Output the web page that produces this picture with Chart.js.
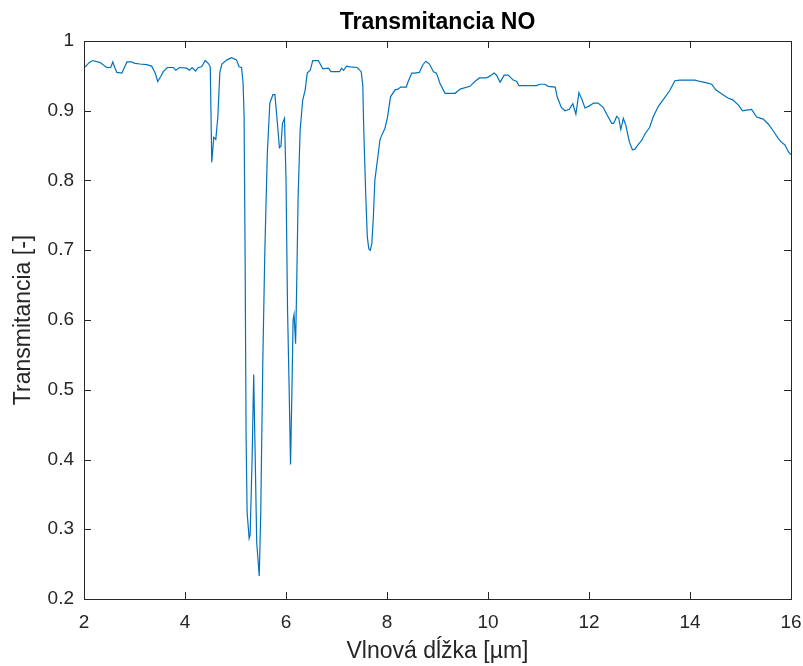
<!DOCTYPE html>
<html>
<head>
<meta charset="utf-8">
<script src="https://cdn.jsdelivr.net/npm/chart.js@4"></script>
<style>
  html, body { margin: 0; padding: 0; background: #fff; }
  #wrap { width: 803px; height: 666px; }
</style>
</head>
<body>
<div id="wrap"><canvas id="chart" width="803" height="666"></canvas></div>
<script>
// --- Data ---
const wavelength = [
  2.00, 2.04, 2.10, 2.17, 2.32, 2.45, 2.53, 2.57, 2.61, 2.65, 2.75, 2.80, 2.85, 2.94, 3.01, 3.11, 3.24, 3.34,
  3.41, 3.46, 3.52, 3.57, 3.65, 3.77, 3.82, 3.89, 4.03, 4.09, 4.14, 4.21, 4.26, 4.33, 4.40, 4.46, 4.50, 4.53,
  4.57, 4.61, 4.65, 4.69, 4.73, 4.83, 4.92, 5.02, 5.07, 5.12, 5.15, 5.17, 5.19, 5.21, 5.23, 5.27, 5.29, 5.33,
  5.36, 5.39, 5.42, 5.47, 5.50, 5.54, 5.58, 5.63, 5.68, 5.74, 5.78, 5.83, 5.87, 5.90, 5.93, 5.97, 6.00, 6.03,
  6.06, 6.09, 6.12, 6.14, 6.16, 6.19, 6.21, 6.24, 6.28, 6.33, 6.38, 6.42, 6.48, 6.53, 6.64, 6.73, 6.84, 6.89,
  7.06, 7.10, 7.14, 7.20, 7.27, 7.41, 7.49, 7.52, 7.54, 7.58, 7.61, 7.64, 7.67, 7.70, 7.73, 7.76, 7.81, 7.86,
  7.89, 7.96, 8.01, 8.07, 8.16, 8.22, 8.27, 8.38, 8.42, 8.49, 8.55, 8.64, 8.71, 8.77, 8.84, 8.92, 8.98, 9.05,
  9.15, 9.35, 9.45, 9.64, 9.74, 9.83, 9.97, 10.04, 10.12, 10.17, 10.24, 10.32, 10.40, 10.50, 10.57, 10.61,
  10.96, 11.03, 11.13, 11.19, 11.33, 11.37, 11.45, 11.52, 11.61, 11.68, 11.74, 11.80, 11.86, 11.92, 12.01,
  12.09, 12.18, 12.28, 12.36, 12.45, 12.49, 12.55, 12.59, 12.63, 12.68, 12.73, 12.80, 12.86, 12.91, 12.98,
  13.04, 13.11, 13.20, 13.27, 13.37, 13.47, 13.60, 13.70, 13.80, 14.10, 14.20, 14.33, 14.43, 14.51, 14.63,
  14.76, 14.84, 14.96, 15.04, 15.12, 15.22, 15.32, 15.45, 15.55, 15.65, 15.75, 15.81, 15.88, 15.95, 16.00
];
const transmittance = [
  0.962, 0.964, 0.969, 0.972, 0.969, 0.962, 0.962, 0.970, 0.962, 0.955, 0.954, 0.962, 0.970, 0.970, 0.968, 0.967, 0.966, 0.964,
  0.954, 0.942, 0.949, 0.956, 0.962, 0.962, 0.958, 0.962, 0.961, 0.958, 0.962, 0.957, 0.962, 0.963, 0.972, 0.968, 0.963, 0.826,
  0.862, 0.859, 0.891, 0.955, 0.967, 0.973, 0.976, 0.973, 0.963, 0.962, 0.940, 0.893, 0.696, 0.430, 0.324, 0.287, 0.292, 0.404,
  0.522, 0.404, 0.281, 0.233, 0.324, 0.537, 0.696, 0.839, 0.911, 0.923, 0.923, 0.882, 0.847, 0.849, 0.882, 0.889, 0.802, 0.616,
  0.510, 0.393, 0.510, 0.600, 0.608, 0.566, 0.643, 0.776, 0.872, 0.915, 0.930, 0.954, 0.958, 0.972, 0.972, 0.960, 0.961, 0.956,
  0.956, 0.961, 0.958, 0.964, 0.963, 0.962, 0.956, 0.937, 0.872, 0.777, 0.719, 0.702, 0.700, 0.710, 0.748, 0.801, 0.829, 0.858,
  0.864, 0.875, 0.891, 0.920, 0.930, 0.931, 0.934, 0.934, 0.942, 0.954, 0.954, 0.955, 0.966, 0.971, 0.967, 0.956, 0.954, 0.939,
  0.925, 0.925, 0.931, 0.935, 0.942, 0.947, 0.947, 0.950, 0.954, 0.951, 0.941, 0.951, 0.951, 0.944, 0.942, 0.936,
  0.936, 0.938, 0.938, 0.935, 0.934, 0.920, 0.905, 0.900, 0.902, 0.910, 0.895, 0.926, 0.916, 0.904, 0.907,
  0.911, 0.911, 0.905, 0.894, 0.882, 0.882, 0.892, 0.889, 0.873, 0.889, 0.879, 0.855, 0.844, 0.845, 0.852,
  0.857, 0.867, 0.876, 0.891, 0.906, 0.916, 0.929, 0.943, 0.944, 0.944, 0.942, 0.940, 0.938, 0.930, 0.924,
  0.918, 0.916, 0.908, 0.900, 0.901, 0.902, 0.891, 0.888, 0.881, 0.871, 0.860, 0.855, 0.851, 0.841, 0.837
];
const xTicks = [2, 4, 6, 8, 10, 12, 14, 16];
const yTicks = [0.2, 0.3, 0.4, 0.5, 0.6, 0.7, 0.8, 0.9, 1];

const FONT = "'Liberation Sans', Arial, Helvetica, sans-serif";
const AXIS_COLOR = "#262626";

// --- MATLAB-style box with inward ticks ---
const boxPlugin = {
  id: "matlabBox",
  afterDraw(chart) {
    const { ctx, chartArea: a, scales: { x, y } } = chart;
    const len = 7;
    ctx.save();
    ctx.strokeStyle = AXIS_COLOR;
    ctx.lineWidth = 1;
    ctx.beginPath();
    xTicks.forEach(v => {
      const px = Math.round(x.getPixelForValue(v)) + 0.5;
      ctx.moveTo(px, a.bottom); ctx.lineTo(px, a.bottom - len);
      ctx.moveTo(px, a.top); ctx.lineTo(px, a.top + len);
    });
    yTicks.forEach(v => {
      const py = Math.round(y.getPixelForValue(v)) + 0.5;
      ctx.moveTo(a.left, py); ctx.lineTo(a.left + len, py);
      ctx.moveTo(a.right, py); ctx.lineTo(a.right - len, py);
    });
    ctx.stroke();
    ctx.strokeRect(Math.round(a.left) + 0.5, Math.round(a.top) + 0.5,
      Math.round(a.right - a.left), Math.round(a.bottom - a.top));
    ctx.restore();
  }
};

const ctx = document.getElementById("chart").getContext("2d");
new Chart(ctx, {
  type: "line",
  data: {
    datasets: [{
      label: "NO",
      data: wavelength.map((w, i) => ({ x: w, y: transmittance[i] })),
      borderColor: "#0072BD",
      borderWidth: 1.2,
      pointRadius: 0,
      fill: false,
      tension: 0
    }]
  },
  options: {
    responsive: false,
    animation: false,
    devicePixelRatio: 1,
    layout: { padding: { left: 0, right: 12, top: 0, bottom: 0 } },
    plugins: {
      legend: { display: false },
      tooltip: { enabled: false },
      title: {
        display: true,
        fullSize: false,
        text: "Transmitancia NO",
        color: "#000",
        font: { family: FONT, size: 23, weight: "bold" },
        padding: { top: 8.5, bottom: 4.9 }
      }
    },
    scales: {
      x: {
        type: "linear",
        min: 2, max: 16,
        afterFit: s => { s.height = 67; s.paddingLeft = 0; s.paddingRight = 0; },
        afterBuildTicks: s => { s.ticks = xTicks.map(v => ({ value: v })); },
        grid: { display: false, drawTicks: false },
        border: { display: false },
        ticks: { color: "#262626", font: { family: FONT, size: 19 }, padding: 12, maxRotation: 0 },
        title: {
          display: true,
          text: "Vlnová dĺžka [µm]",
          color: "#262626",
          font: { family: FONT, size: 23 },
          padding: { top: 0, bottom: 0.2 }
        }
      },
      y: {
        type: "linear",
        min: 0.2, max: 1,
        afterFit: s => { s.width = 84; s.paddingTop = 0; s.paddingBottom = 0; },
        afterBuildTicks: s => { s.ticks = yTicks.map(v => ({ value: v })); },
        grid: { display: false, drawTicks: false },
        border: { display: false },
        ticks: {
          color: "#262626",
          font: { family: FONT, size: 19 },
          padding: 10,
          callback: v => String(+v.toFixed(1))
        },
        title: {
          display: true,
          text: "Transmitancia [-]",
          color: "#262626",
          font: { family: FONT, size: 23 },
          padding: { top: 9.5, bottom: 0 }
        }
      }
    }
  },
  plugins: [boxPlugin]
});
</script>
</body>
</html>
